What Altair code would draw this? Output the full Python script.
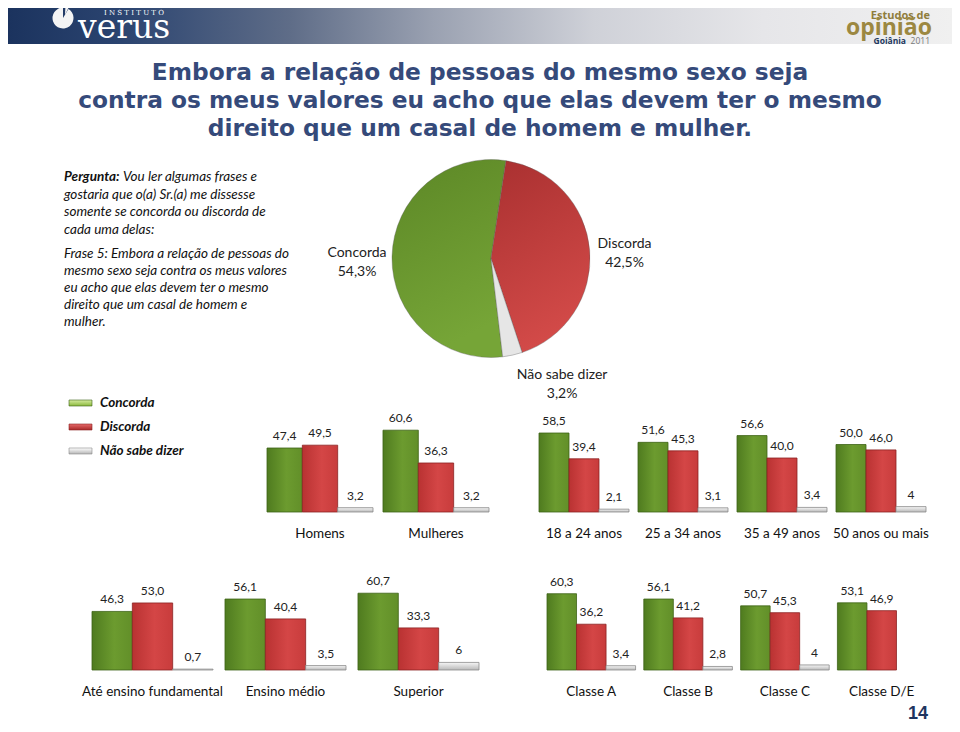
import math
import altair as alt
import pandas as pd

# ---------------- data ----------------
SERIES = ["Concorda", "Discorda", "Não sabe dizer"]

PIE_NAMES = ["Concorda", "Discorda", "Não sabe dizer"]
PIE_VALUES = [54.3, 42.5, 3.2]
PIE_DRAW_ORDER = ["Discorda", "Não sabe dizer", "Concorda"]

GENDER = ["Homens", "Mulheres"]
GENDER_CONC = [47.4, 60.6]
GENDER_DISC = [49.5, 36.3]
GENDER_NS = [3.2, 3.2]

AGE = ["18 a 24  anos", "25 a 34 anos", "35 a 49 anos", "50 anos ou mais"]
AGE_CONC = [58.5, 51.6, 56.6, 50.0]
AGE_DISC = [39.4, 45.3, 40.0, 46.0]
AGE_NS = [2.1, 3.1, 3.4, 4]

EDU = ["Até ensino fundamental", "Ensino médio", "Superior"]
EDU_CONC = [46.3, 56.1, 60.7]
EDU_DISC = [53.0, 40.4, 33.3]
EDU_NS = [0.7, 3.5, 6]

CLASS = ["Classe A", "Classe B", "Classe C", "Classe D/E"]
CLASS_CONC = [60.3, 56.1, 50.7, 53.1]
CLASS_DISC = [36.2, 41.2, 45.3, 46.9]
CLASS_NS = [3.4, 2.8, 4, None]

TITLE_LINES = [
    "Embora a relação de pessoas do mesmo sexo seja",
    "contra os meus valores eu acho que elas devem ter o mesmo",
    "direito que um casal de homem e mulher.",
]
Q_BOLD = "Pergunta:"
Q_FIRST = "Vou ler algumas frases e"
Q_REST = ["gostaria que o(a) Sr.(a) me dissesse",
          "somente se concorda ou discorda de",
          "cada uma delas:"]
FRASE = ["Frase 5: Embora a relação de pessoas do",
         "mesmo sexo seja contra os meus valores",
         "eu acho que elas devem ter o mesmo",
         "direito que um casal de homem e",
         "mulher."]
PAGE = "14"

# ---------------- layout helpers ----------------
W, H = 944, 716
OFF = 8  # page margin: reference pixel -> chart pixel
FONT = "Lato"


def P(v):
    return v - OFF


def fmt(v):
    if isinstance(v, int):
        return str(v)
    return f"{v:.1f}".replace(".", ",")


def lin(stops, x2=1, y2=0):
    return {"gradient": "linear", "x1": 0, "y1": 0, "x2": x2, "y2": y2,
            "stops": [{"offset": o, "color": c} for o, c in stops]}


G_GREEN = lin([(0, "#4f7b1f"), (0.55, "#6c9b2f"), (1, "#628f29")])
G_RED = lin([(0, "#b93232"), (0.55, "#d44646"), (1, "#c83c3c")])
G_GRAY = lin([(0, "#f6f6f6"), (1, "#b8b8b8")], x2=0, y2=1)

L_GREEN = lin([(0, "#d6eca0"), (1, "#8ab83c")], x2=0, y2=1)
L_RED = lin([(0, "#e66a6a"), (1, "#a82828")], x2=0, y2=1)
L_GRAY = lin([(0, "#ffffff"), (1, "#b5b5b5")], x2=0, y2=1)

P_GREEN = lin([(0, "#5c8726"), (1, "#76a537")], x2=0.3, y2=1)
P_RED = lin([(0, "#a93030"), (1, "#d24a48")], x2=0.3, y2=1)
P_GRAY = "#e6e6e6"


def series_fill(gc, gd, gn):
    return {"condition": [
        {"test": "datum.series === 'Concorda'", "value": gc},
        {"test": "datum.series === 'Discorda'", "value": gd}],
        "value": gn}


def series_stroke():
    return {"condition": [
        {"test": "datum.series === 'Concorda'", "value": "#3e6317"},
        {"test": "datum.series === 'Discorda'", "value": "#8c2222"}],
        "value": "#8a8a8a"}


def segment(groups, conc, disc, nsab, x0, x1, pinner, base, ppu, label_y):
    rows = []
    for i, g in enumerate(groups):
        for s, vals in zip(SERIES, [conc, disc, nsab]):
            v = vals[i]
            if v is None:
                continue
            rows.append({"group": g, "series": s, "value": float(v), "label": fmt(v)})
    df = pd.DataFrame(rows)
    xs = alt.Scale(domain=groups, range=[P(x0), P(x1)], paddingInner=pinner, paddingOuter=0)
    ys = alt.Scale(domain=[0, 100], range=[P(base), P(base) - 100 * ppu])
    os_ = alt.Scale(domain=SERIES, paddingInner=0, paddingOuter=0)
    enc = dict(
        x=alt.X("group:N", scale=xs, axis=None),
        xOffset=alt.XOffset("series:N", scale=os_),
        y=alt.Y("value:Q", scale=ys, axis=None),
    )
    bars = alt.Chart(df).mark_bar(strokeWidth=0.8).encode(
        **enc, fill=series_fill(G_GREEN, G_RED, G_GRAY), stroke=series_stroke())
    labels = alt.Chart(df).mark_text(
        baseline="bottom", dy=-5, fontSize=12, font=FONT, color="#222222"
    ).encode(**enc, text="label:N")
    cats = alt.Chart(pd.DataFrame({"group": groups})).mark_text(
        fontSize=13.5, font=FONT, color="#111111", baseline="middle"
    ).encode(x=alt.X("group:N", scale=xs, axis=None), y=alt.value(P(label_y)), text="group:N")
    return alt.layer(bars, labels, cats)


one = pd.DataFrame({"a": [0]})

# ---------------- header ----------------
header = alt.Chart(one).mark_rect(
    fill=lin([(0, "#1b335e"), (0.12, "#2b4470"), (0.3, "#5f6d88"), (0.45, "#9aa1b1"),
              (0.62, "#cfd1d8"), (0.8, "#e6e6e9"), (1, "#f0f0f0")])
).encode(x=alt.value(0), x2=alt.value(W), y=alt.value(0), y2=alt.value(P(44)))

icon = alt.Chart(one).mark_arc(radius=10.5, theta=0.55, theta2=2 * math.pi, fill="#f4f4f4").encode(
    x=alt.value(P(63)), y=alt.value(P(18)))
icon2 = alt.Chart(one).mark_arc(radius=10.5, theta=0.05, theta2=0.45, fill="#f4f4f4").encode(
    x=alt.value(P(65)), y=alt.value(P(15)))
inst = alt.Chart(one).mark_text(text="I  N  S  T  I  T  U  T  O", font="DejaVu Serif", fontSize=7,
                                color="#ffffff", align="left", baseline="top").encode(
    x=alt.value(P(104)), y=alt.value(1))
verus = alt.Chart(one).mark_text(text="verus", font="DejaVu Serif", fontSize=33, color="#ffffff",
                                 align="left", baseline="alphabetic").encode(
    x=alt.value(P(78)), y=alt.value(P(38)))
est = alt.Chart(one).mark_text(text="Estudos de", font="Open Sans", fontWeight="bold", fontSize=11,
                               color="#8f7d3c", align="right", baseline="top").encode(
    x=alt.value(P(930)), y=alt.value(2))
opi = alt.Chart(one).mark_text(text="opinião", font="Open Sans", fontWeight="bold", fontSize=23,
                               color="#9c8841", align="right", baseline="alphabetic").encode(
    x=alt.value(P(932)), y=alt.value(P(35)))
goi = alt.Chart(one).mark_text(text="Goiânia", font="Open Sans", fontWeight="bold", fontSize=8.5,
                               color="#22385e", align="right", baseline="alphabetic").encode(
    x=alt.value(P(906)), y=alt.value(P(44)))
yr = alt.Chart(one).mark_text(text="2011", font="Open Sans", fontSize=8.5,
                              color="#7a7a7a", align="right", baseline="alphabetic").encode(
    x=alt.value(P(930)), y=alt.value(P(44)))

# ---------------- title & question ----------------
title = alt.Chart(one).mark_text(
    text=TITLE_LINES, font="DejaVu Sans", fontWeight="bold", fontSize=23.3,
    color="#354a7a", align="center", baseline="alphabetic", lineHeight=28
).encode(x=alt.value(P(480)), y=alt.value(P(80)))

q_bold = alt.Chart(one).mark_text(
    text=Q_BOLD, font=FONT, fontWeight="bold", fontStyle="italic", fontSize=13.5,
    color="#111111", align="left", baseline="alphabetic"
).encode(x=alt.value(P(64)), y=alt.value(P(181)))
q_first = alt.Chart(one).mark_text(
    text=Q_FIRST, font=FONT, fontStyle="italic", fontSize=13.5,
    color="#111111", align="left", baseline="alphabetic"
).encode(x=alt.value(P(123)), y=alt.value(P(181)))
q_rest = alt.Chart(one).mark_text(
    text=Q_REST, font=FONT, fontStyle="italic", fontSize=13.5, lineHeight=17.5,
    color="#111111", align="left", baseline="alphabetic"
).encode(x=alt.value(P(64)), y=alt.value(P(198.5)))
frase = alt.Chart(one).mark_text(
    text=FRASE, font=FONT, fontStyle="italic", fontSize=13.5, lineHeight=17,
    color="#111111", align="left", baseline="alphabetic"
).encode(x=alt.value(P(64)), y=alt.value(P(258)))

# ---------------- pie ----------------
pie_df = pd.DataFrame({
    "series": PIE_NAMES,
    "value": PIE_VALUES,
    "label": [f"{n}\n{fmt(v)}%" for n, v in zip(PIE_NAMES, PIE_VALUES)],
    "ord": [PIE_DRAW_ORDER.index(n) for n in PIE_NAMES],
})
A0 = math.radians(8.7)
TS = alt.Scale(domain=[0, 100], range=[A0, A0 + 2 * math.pi])
CX, CY = P(491), P(258.5)

pie_base = alt.Chart(pie_df).transform_window(
    cum="sum(value)", sort=[alt.SortField("ord")], frame=[None, 0]
).transform_calculate(
    start="datum.cum - datum.value", mid="datum.cum - datum.value / 2"
)
arcs = pie_base.mark_arc(radius=99, stroke="#5a5a5a", strokeWidth=0.6, strokeOpacity=0.6).encode(
    theta=alt.Theta("start:Q", scale=TS), theta2="cum:Q",
    fill=series_fill(P_GREEN, P_RED, P_GRAY),
    x=alt.value(CX), y=alt.value(CY))
pie_lab = pie_base.transform_filter("datum.series !== 'Não sabe dizer'").mark_text(
    radius=134, dy=-3, font=FONT, fontSize=14, lineHeight=19, lineBreak="\n", color="#222222",
    baseline="middle", align="center"
).encode(theta=alt.Theta("mid:Q", scale=TS), text="label:N", x=alt.value(CX), y=alt.value(CY))
pie_lab2 = pie_base.transform_filter("datum.series === 'Não sabe dizer'").mark_text(
    radius=134, dx=42, dy=-14, font=FONT, fontSize=14, lineHeight=19, lineBreak="\n",
    color="#222222", baseline="middle", align="center"
).encode(theta=alt.Theta("mid:Q", scale=TS), text="label:N", x=alt.value(CX), y=alt.value(CY))
pie = alt.layer(arcs, pie_lab, pie_lab2)

# ---------------- legend ----------------
leg_df = pd.DataFrame({"series": SERIES})
LY = alt.Scale(domain=SERIES, range=[P(400), P(454)], paddingInner=0.75, paddingOuter=0)
leg_rect = alt.Chart(leg_df).mark_rect(strokeWidth=0.6).encode(
    x=alt.value(P(69)), x2=alt.value(P(92)),
    y=alt.Y("series:N", scale=LY, axis=None),
    fill=series_fill(L_GREEN, L_RED, L_GRAY), stroke=series_stroke())
leg_text = alt.Chart(leg_df).mark_text(
    font=FONT, fontStyle="italic", fontWeight="bold", fontSize=13.5, color="#111111",
    align="left", baseline="middle"
).encode(x=alt.value(P(100)), y=alt.Y("series:N", scale=LY, axis=None), text="series:N")
legend = alt.layer(leg_rect, leg_text)

# ---------------- bar segments ----------------
seg_gender = segment(GENDER, GENDER_CONC, GENDER_DISC, GENDER_NS, 267, 489, 0.086, 512, 1.35, 534)
seg_age = segment(AGE, AGE_CONC, AGE_DISC, AGE_NS, 539, 926, 0.091, 512, 1.35, 534)
seg_edu = segment(EDU, EDU_CONC, EDU_DISC, EDU_NS, 92, 479, 0.09, 670, 1.265, 692)
seg_class = segment(CLASS, CLASS_CONC, CLASS_DISC, CLASS_NS, 547, 926, 0.085, 670, 1.265, 692)

page = alt.Chart(one).mark_text(text=PAGE, font="Liberation Sans", fontWeight="bold", fontSize=18,
                                color="#1f3560", align="center", baseline="bottom").encode(
    x=alt.value(P(918)), y=alt.value(H - 1))

chart = alt.layer(
    header, icon, icon2, inst, verus, est, opi, goi, yr,
    title, q_bold, q_first, q_rest, frase,
    pie, legend, seg_gender, seg_age, seg_edu, seg_class, page
).resolve_scale(
    x="independent", y="independent", xOffset="independent", theta="independent"
).properties(
    width=W, height=H, padding=0,
    autosize=alt.AutoSizeParams(type="none"),
    background="#ffffff",
).configure_view(stroke=None)

chart.save("out.html", embed_options={"renderer": "svg", "actions": False})
